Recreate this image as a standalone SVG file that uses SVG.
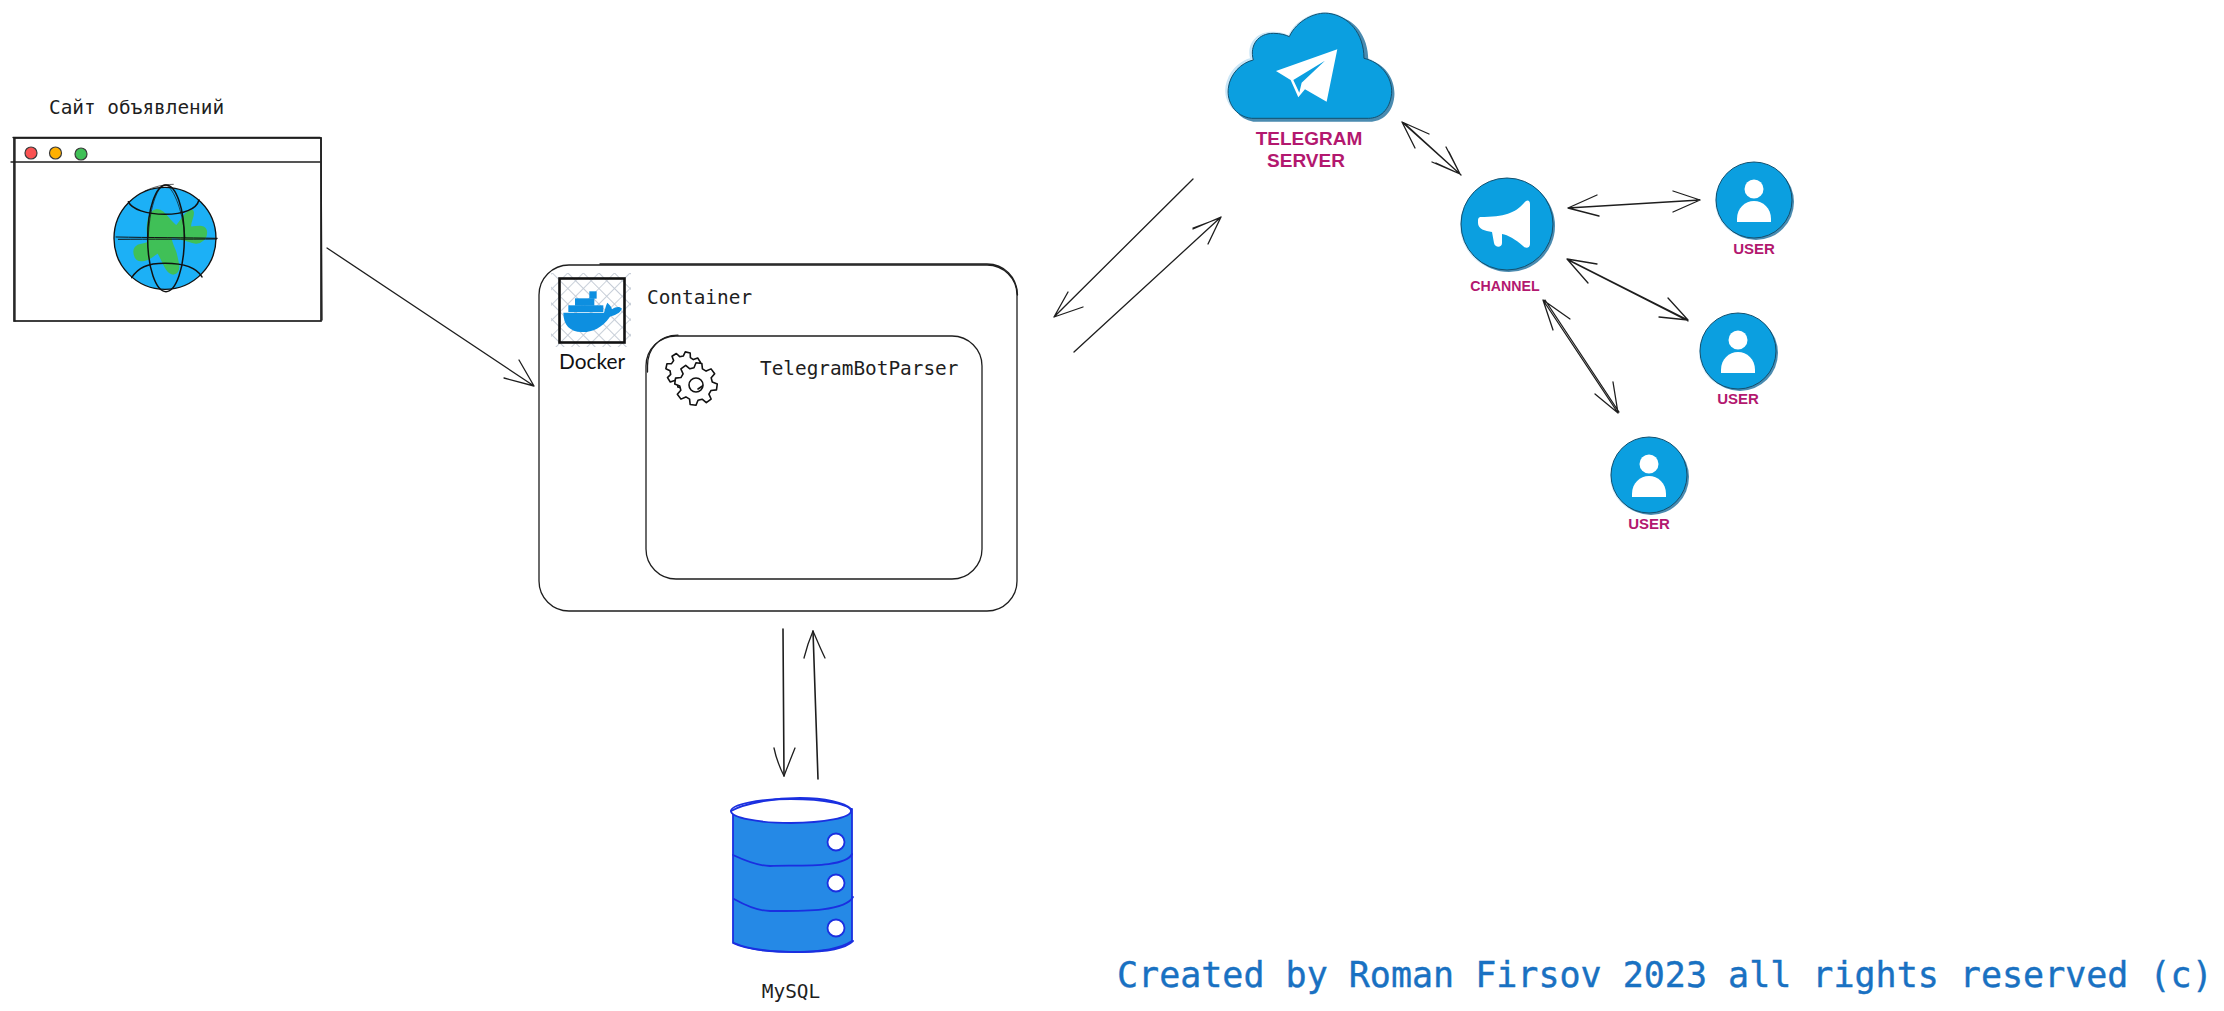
<svg xmlns="http://www.w3.org/2000/svg" width="2224" height="1011" viewBox="0 0 2224 1011">
<defs>
<pattern id="hatch" width="11" height="11" patternUnits="userSpaceOnUse" patternTransform="rotate(45)">
<path d="M0 0H11M0 0V11" stroke="#c5ccd6" stroke-width="1.8" fill="none"/>
</pattern>
<path id="gear" d="M19.300-5.200L25.700-3.600V3.600L19.300 5.200L17.300 10L20.800 15.600L15.600 20.800L10 17.300L5.200 19.300L3.600 25.700H-3.600L-5.200 19.300L-10 17.300L-15.600 20.800L-20.800 15.600L-17.300 10L-19.300 5.200L-25.700 3.600V-3.600L-19.300-5.200L-17.300-10L-20.800-15.600L-15.600-20.800L-10-17.300L-5.200-19.300L-3.600-25.700H3.600L5.200-19.300L10-17.300L15.600-20.800L20.800-15.600L17.300-10Z" vector-effect="non-scaling-stroke"/>
<g id="userIcon">
<circle cx="-1" cy="1" r="38" fill="#cbe6f6"/>
<circle cx="2" cy="2" r="38" fill="#4a8bb0"/>
<circle r="38" fill="#0b9fe0" stroke="#12506f" stroke-width="1"/>
<circle cy="-11" r="9.5" fill="#fff"/>
<path d="M-17 22V19C-17 8-9 1 0 1S17 8 17 19V22Z" fill="#fff"/>
</g>
</defs>
<style>
.mono{font-family:"DejaVu Sans Mono","Liberation Mono",monospace;font-size:19.4px;fill:#1e1e1e}
.lbl{font-family:"Liberation Sans",Arial,sans-serif;font-weight:700;fill:#b3186f;text-anchor:middle}
.sk{fill:none;stroke:#1e1e1e;stroke-width:1.3;stroke-linecap:round;stroke-linejoin:round}
.bl{fill:none;stroke:#111;stroke-width:1.6;stroke-linecap:round;stroke-linejoin:round}
.db{stroke:#1a2fe0;stroke-width:1.8;stroke-linecap:round;stroke-linejoin:round}
</style>
<rect width="2224" height="1011" fill="#fff"/>

<g id="site">
<text class="mono" x="49" y="114">Сайт объявлений</text>
<rect x="14" y="138" width="307" height="183" fill="#fff" stroke="#1e1e1e" stroke-width="1.7"/>
<path class="sk" d="M11 162H320M13 137.500H320M15 138V321"/>
<path class="sk" d="M321 138L322 320" stroke-width="2"/>
<g stroke="#3a3a3a" stroke-width="1.2">
<circle cx="31" cy="153" r="6" fill="#fa5252"/>
<circle cx="55.500" cy="153" r="6" fill="#ffb000"/>
<circle cx="81" cy="154" r="6" fill="#40c057"/>
</g>
<g transform="translate(0 81) scale(.3333)">
<circle cx="495" cy="472" r="153" fill="#1cb0f6" stroke="#111" stroke-width="4"/>
<path d="M470 390C490 388 505 425 530 440C545 425 560 392 575 392C582 400 560 430 570 442C585 445 610 432 615 450C618 470 600 485 585 482C565 478 530 462 510 465C505 480 520 500 525 520C530 545 540 570 520 575C500 575 490 530 475 510C460 515 450 535 425 535C405 535 400 505 415 497C430 490 450 495 450 480C445 460 440 395 470 390Z" fill="#40c057" stroke="#40c057" stroke-width="12" stroke-linejoin="round"/>
<g fill="none" stroke="#111" stroke-width="4.500" stroke-linecap="round">
<ellipse cx="498" cy="472" rx="55" ry="160"/>
<path d="M445 470C447 390 470 315 495 312C515 312 548 380 555 470" stroke-width="2"/>
<path d="M348 468C450 470 560 470 652 472M355 475C450 474 560 475 650 474" stroke-width="3"/>
<path d="M385 362C395 385 440 400 495 400C550 400 590 385 597 357"/>
<path d="M395 590C415 560 440 547 495 547C550 547 590 560 606 588"/>
<path d="M435 330C460 318 490 310 520 310" stroke-width="2"/>
</g>
</g>
</g>

<g id="container">
<rect x="539" y="265" width="478" height="346" rx="30" fill="#fff" stroke="#1e1e1e" stroke-width="1.3"/>
<path class="sk" d="M600 264H987C1004 264 1017 277 1017.500 295"/>
<text class="mono" x="647" y="304">Container</text>
</g>

<g id="docker">
<rect x="551" y="273" width="80" height="74" fill="url(#hatch)"/>
<rect x="559.500" y="278.500" width="65" height="64" fill="none" stroke="#111" stroke-width="2.600"/>
<g transform="translate(520 250) scale(.3333)" fill="#0d8fe0">
<path d="M130 188H252C256 175 258 165 262 158C270 165 274 170 276 178C288 170 298 168 306 176C300 190 285 195 270 200C245 235 215 247 185 246C150 245 130 225 130 188Z"/>
<rect x="145" y="166" width="105" height="20"/>
<rect x="165" y="145" width="58" height="22"/>
<rect x="208" y="124" width="22" height="22"/>
</g>
<text x="559" y="369" font-family="Lato, sans-serif" font-size="22" textLength="66" lengthAdjust="spacingAndGlyphs" fill="#111">Docker</text>
</g>

<g id="parser">
<rect x="646" y="336" width="336" height="243" rx="30" fill="#fff" stroke="#1e1e1e" stroke-width="1.3"/>
<path class="sk" d="M647.500 372V366C647.500 348 660 335.200 678 335.200"/>
<use href="#gear" class="bl" transform="translate(684 370) rotate(12) scale(.7)"/>
<use href="#gear" class="bl" fill="#fff" style="fill:#fff" transform="translate(696 384) rotate(8) scale(.82)"/>
<circle class="bl" cx="696" cy="385" r="7"/>
<path class="bl" d="M698 389L702.500 386"/>
<text class="mono" x="760" y="375">TelegramBotParser</text>
</g>

<g id="mysql">
<path class="db" fill="#2589e6" d="M733 811V943C745 949 770 952 795 952C820 952 840 949 852 941V809Z"/>
<ellipse class="db" cx="791" cy="811" rx="60" ry="12" fill="#fff"/>
<path class="db" fill="none" d="M731 811C745 803 775 798 800 798C825 798 845 803 851 809M733 855C750 863 760 866 770 866C800 865 845 868 852 854M734 899C750 908 760 911 770 911C800 911 845 912 853 897M734 943C750 950 770 952 800 952C825 952 845 949 853 941"/>
<g class="db" fill="#fff" stroke-width="1.500">
<circle cx="836" cy="842" r="8.500"/>
<circle cx="836" cy="883" r="8.500"/>
<circle cx="836" cy="928" r="8.500"/>
</g>
<text class="mono" x="791" y="997.500" text-anchor="middle">MySQL</text>
</g>

<g id="telegram-server">
<g transform="translate(1040 0) scale(.3333)">
<path fill="#cbe6f6" d="M625 350C570 340 545 290 560 245C575 200 610 180 630 175C620 130 650 95 695 95C720 95 735 100 745 105C770 55 830 30 870 38C930 45 970 100 970 170C1020 180 1060 230 1055 280C1050 330 1010 355 975 355Z"/>
<path fill="#4a8bb0" d="M640 365C585 355 565 305 578 255C590 215 625 190 650 185C640 140 665 105 710 105C735 105 750 110 760 115C785 65 845 40 885 48C945 55 985 110 985 180C1035 190 1068 240 1063 290C1058 340 1025 365 990 365Z"/>
<path fill="#0b9fe0" stroke="#12506f" stroke-width="3" d="M635 355C585 350 560 305 565 265C570 220 605 188 640 180C628 135 655 100 700 100C722 100 738 105 748 110C770 62 825 35 865 40C925 47 972 100 972 175C1020 185 1058 230 1055 280C1050 330 1020 355 985 355Z"/>
<path fill="#fff" d="M892 148L708 213L752 240L775 292L795 268L860 305Z"/>
<path fill="#0b9fe0" d="M855 182L760 240L778 278L785 248Z"/>
</g>
<text class="lbl" x="1309" y="145" font-size="19">TELEGRAM</text>
<text class="lbl" x="1306" y="167" font-size="19">SERVER</text>
</g>

<g id="channel">
<circle cx="1506" cy="225" r="46" fill="#cbe6f6"/>
<circle cx="1509" cy="226" r="46" fill="#4a8bb0"/>
<circle cx="1507" cy="224" r="46" fill="#0b9fe0" stroke="#12506f" stroke-width="1"/>
<path fill="#fff" d="M1480 217C1505 217 1515 213 1524 203C1527 199 1530 200 1530 204V244C1530 248 1526 249 1523 246C1515 239 1508 235 1502 234V243C1502 248 1495 248 1494 243L1492 232C1485 231 1478 229 1478 223C1478 219 1478 218 1480 217Z"/>
<text class="lbl" x="1505" y="291" font-size="14.200">CHANNEL</text>
</g>

<g id="user-1">
<use href="#userIcon" x="1754" y="200"/>
<text class="lbl" x="1754" y="254" font-size="15">USER</text>
</g>
<g id="user-2">
<use href="#userIcon" x="1738" y="351"/>
<text class="lbl" x="1738" y="404" font-size="15">USER</text>
</g>
<g id="user-3">
<use href="#userIcon" x="1649" y="475"/>
<text class="lbl" x="1649" y="529" font-size="15">USER</text>
</g>

<g id="connectors" class="sk">
<path d="M327 248L534 386M504 378L534 386L519 360"/>
<path d="M1193 179L1054 317M1068 292L1054 317L1083 307"/>
<path d="M1074 352L1221 217M1193 229L1221 217L1208 244M1193 228L1220 218M1209 242L1220 219"/>
<path d="M1402 122L1460 174M1404 123L1461 175M1429 134L1402 122L1415 148M1446 147L1460 174L1432 162M1449 152L1460 174L1436 163"/>
<path d="M1568 208L1700 200M1597 195L1568 208L1599 216M1673 191L1700 200L1673 212"/>
<path d="M1567 259L1688 320M1568 260L1688 321M1597 264L1567 259L1588 283M1668 298L1688 320L1659 317"/>
<path d="M1543 300L1618 413M1545 300L1619 412M1570 319L1543 300L1553 330M1613 382L1618 413L1595 394"/>
<path d="M783 629L784 776" stroke-width="1.600"/>
<path d="M774 748C776 758 780 768 784 776C787 768 791 758 795 748"/>
<path d="M818 779L813 631" stroke-width="1.600"/>
<path d="M804 658C806 650 810 638 813 631C816 638 821 650 825 658"/>
</g>

<text id="credit" x="1117" y="987" font-family="DejaVu Sans Mono, Liberation Mono, monospace" font-size="35" fill="#1971c2" stroke="#1971c2" stroke-width=".4">Created by Roman Firsov 2023 all rights reserved (c)</text>
</svg>
